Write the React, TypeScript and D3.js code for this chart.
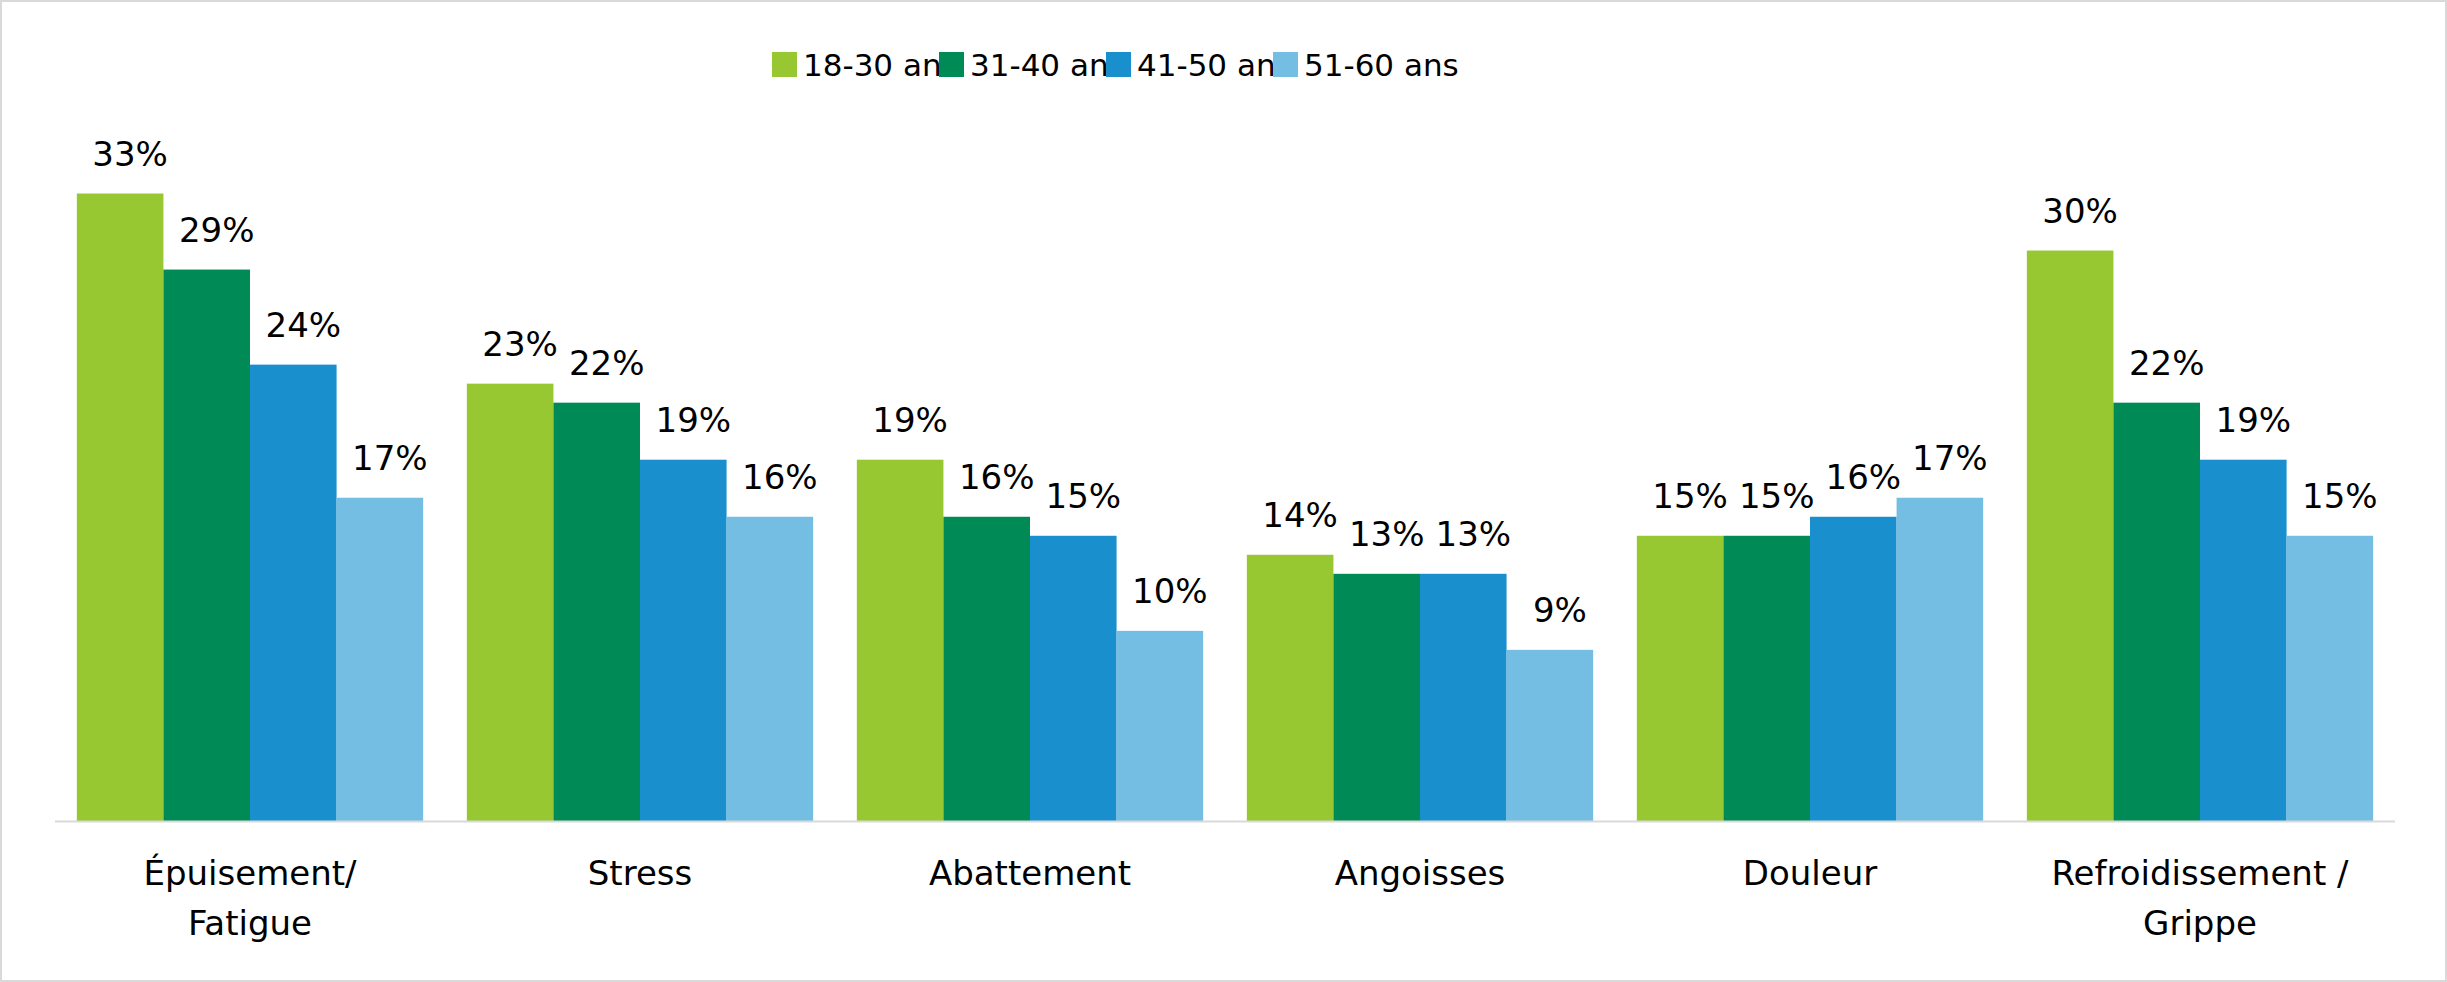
import React from 'react';
import * as d3 from 'd3';

const categories = [['Épuisement/', 'Fatigue'], ['Stress'], ['Abattement'], ['Angoisses'], ['Douleur'], ['Refroidissement /', 'Grippe']];
const seriesNames = ['18-30 ans', '31-40 ans', '41-50 ans', '51-60 ans'];
const colors = ['#97C731', '#008A55', '#1A8FCD', '#74BEE3'];
const values = [
  [33, 23, 19, 14, 15, 30],
  [29, 22, 16, 13, 15, 22],
  [24, 19, 15, 13, 16, 19],
  [17, 16, 10, 9, 17, 15],
];

const W = 2447, H = 982;
const font = 'Verdana, "DejaVu Sans", sans-serif';

export default function App() {
  const x0 = d3.scaleBand<number>().domain(d3.range(6)).range([55, 2395]).paddingInner(0.112).paddingOuter(0.056);
  const x1 = d3.scaleBand<number>().domain(d3.range(4)).range([0, x0.bandwidth()]);
  const y = d3.scaleLinear().domain([0, 33]).range([821, 193.5]);

  return (
    <svg width={W} height={H} style={{ position: 'absolute', left: 0, top: 0 }} fontFamily={font}>
      <rect x={1} y={1} width={W - 2} height={H - 2} fill="#fff" stroke="#d9d9d9" strokeWidth={2} />
      {seriesNames.map((s, i) => (
        <g key={s} transform={`translate(${772 + i * 167},52)`}>
          <rect width={25} height={25} fill={colors[i]} />
          <text x={31} y={24} fontSize={31} fill="#000">{s}</text>
        </g>
      ))}
      {values.map((row, si) => row.map((v, ci) => {
        const bx = x0(ci)! + x1(si)!;
        return (
          <g key={`${si}-${ci}`}>
            <rect x={bx} y={y(v)} width={x1.bandwidth()} height={821 - y(v)} fill={colors[si]} />
            <text x={bx + x1.bandwidth() / 2 + 10} y={y(v) - 28} fontSize={34} textAnchor="middle" fill="#000">{v}%</text>
          </g>
        );
      }))}
      <line x1={55} x2={2395} y1={821.5} y2={821.5} stroke="#d9d9d9" strokeWidth={2} />
      {categories.map((lines, ci) => (
        <text key={ci} x={x0(ci)! + x0.bandwidth() / 2} y={885} fontSize={34} textAnchor="middle" fill="#000">
          {lines.map((l, k) => <tspan key={k} x={x0(ci)! + x0.bandwidth() / 2} dy={k === 0 ? 0 : 50}>{l}</tspan>)}
        </text>
      ))}
    </svg>
  );
}
